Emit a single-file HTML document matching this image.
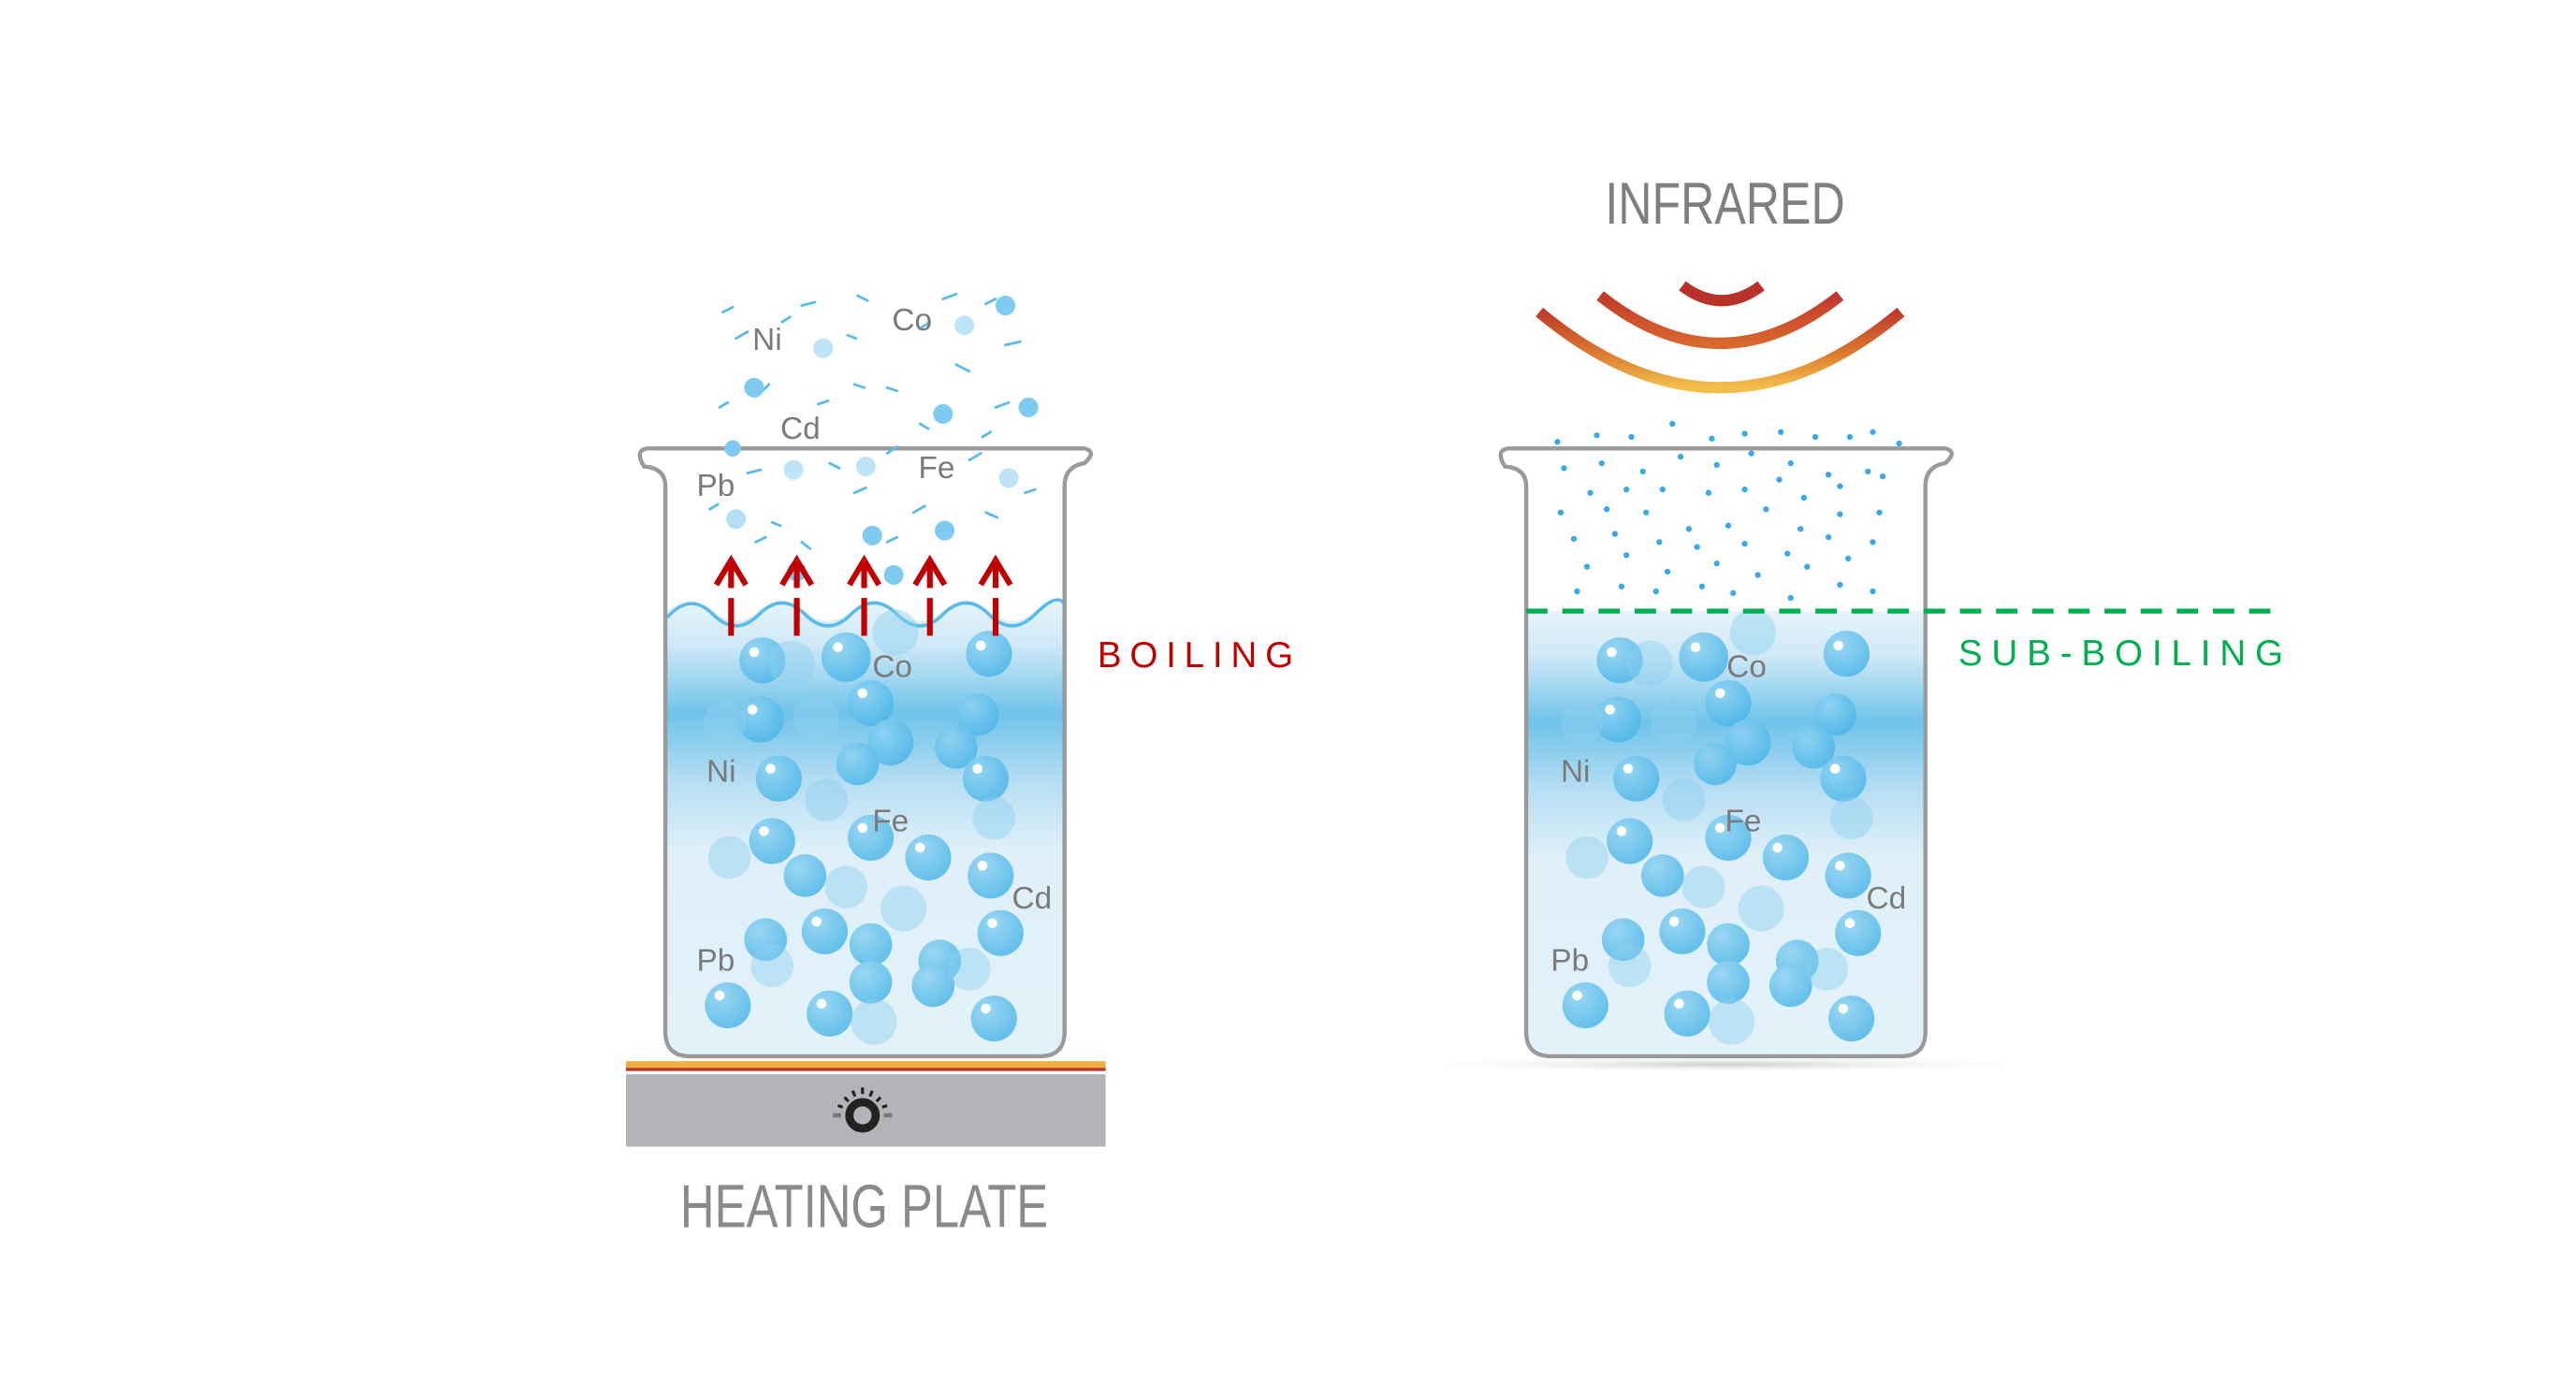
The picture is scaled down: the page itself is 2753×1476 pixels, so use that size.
<!DOCTYPE html>
<html><head><meta charset="utf-8"><style>html,body{margin:0;padding:0;background:#fff}svg{display:block}</style></head><body>
<svg width="2753" height="1476" viewBox="0 0 1568 840.7" xmlns="http://www.w3.org/2000/svg" font-family="Liberation Sans, sans-serif">
<defs>
<linearGradient id="liq" x1="0" y1="0" x2="0" y2="1">
<stop offset="0" stop-color="#e6f4fb"/><stop offset="0.1" stop-color="#cfe9f7"/><stop offset="0.25" stop-color="#6fc3ea"/><stop offset="0.4" stop-color="#b6def3"/><stop offset="0.55" stop-color="#dff0f9"/><stop offset="1" stop-color="#e3f2f9"/>
</linearGradient>
<radialGradient id="bub" cx="0.35" cy="0.3" r="0.75"><stop offset="0" stop-color="#8fd3f3"/><stop offset="1" stop-color="#4cb6e8"/></radialGradient>
<linearGradient id="arc" x1="0" y1="0" x2="0" y2="1"><stop offset="0" stop-color="#c0392b"/><stop offset="0.5" stop-color="#d9742f"/><stop offset="1" stop-color="#f2c04a"/></linearGradient>
<linearGradient id="arc2" x1="0" y1="0" x2="0" y2="1"><stop offset="0" stop-color="#c0392b"/><stop offset="1" stop-color="#d9682f"/></linearGradient>
<radialGradient id="sh" cx="0.5" cy="0.5" r="0.5"><stop offset="0" stop-color="#ccc"/><stop offset="1" stop-color="#fff" stop-opacity="0"/></radialGradient>
<g id="bubbles">
<g fill="url(#bub)" opacity="0.85">
<circle cx="464" cy="402" r="14"/><circle cx="515" cy="400" r="15"/><circle cx="602" cy="398" r="14"/><circle cx="530" cy="428" r="14"/><circle cx="463" cy="438" r="14"/><circle cx="595" cy="435" r="13"/><circle cx="542" cy="452" r="14"/><circle cx="582" cy="455" r="13"/><circle cx="474" cy="474" r="14"/><circle cx="522" cy="465" r="13"/><circle cx="600" cy="474" r="14"/><circle cx="470" cy="512" r="14"/><circle cx="530" cy="510" r="14"/><circle cx="565" cy="522" r="14"/><circle cx="490" cy="533" r="13"/><circle cx="603" cy="533" r="14"/><circle cx="466" cy="572" r="13"/><circle cx="502" cy="567" r="14"/><circle cx="530" cy="575" r="13"/><circle cx="572" cy="585" r="13"/><circle cx="609" cy="568" r="14"/><circle cx="443" cy="612" r="14"/><circle cx="505" cy="617" r="14"/><circle cx="568" cy="600" r="13"/><circle cx="605" cy="620" r="14"/><circle cx="530" cy="598" r="13"/>
</g>
<g fill="#8fd0f0" opacity="0.45">
<circle cx="482" cy="404" r="14"/><circle cx="497" cy="438" r="14"/><circle cx="441" cy="440" r="13"/><circle cx="503" cy="487" r="13"/><circle cx="444" cy="522" r="13"/><circle cx="550" cy="553" r="14"/><circle cx="532" cy="622" r="14"/><circle cx="470" cy="588" r="13"/><circle cx="545" cy="385" r="14"/><circle cx="605" cy="498" r="13"/><circle cx="515" cy="540" r="13"/><circle cx="590" cy="590" r="13"/>
</g>
<g fill="#fff">
<circle cx="459" cy="397" r="3"/><circle cx="510" cy="394" r="3"/><circle cx="597" cy="393" r="3"/><circle cx="525" cy="422" r="3"/><circle cx="458" cy="432" r="3"/><circle cx="469" cy="468" r="3"/><circle cx="465" cy="506" r="3"/><circle cx="525" cy="504" r="3"/><circle cx="560" cy="516" r="3"/><circle cx="598" cy="527" r="3"/><circle cx="497" cy="561" r="3"/><circle cx="438" cy="606" r="3"/><circle cx="500" cy="611" r="3"/><circle cx="600" cy="614" r="3"/><circle cx="604" cy="562" r="3"/><circle cx="595" cy="468" r="3"/>
</g>
</g>
</defs>

<path d="M406 372 Q420 360 434 372 T462 372 T490 372 T518 372 T546 372 T574 372 T602 372 T630 372 T648 368 L648 628 Q648 643 633 643 L420 643 Q406 643 406 628 Z" fill="url(#liq)"/>
<path d="M406 376 Q420 360 434 374 T462 374 T490 374 T518 374 T546 374 T574 374 T602 374 T630 374 T648 368" fill="none" stroke="#5bbbe8" stroke-width="2"/>
<use href="#bubbles"/>
<path d="M392 284 Q386 274 394 273 L660 273 Q668 275 660 282 Q648 284 648 296 L648 628 Q648 643 633 643 L420 643 Q405 643 405 628 L405 296 Q405 285 392 284 Z" fill="none" stroke="#9a9a9a" stroke-width="2.5"/>
<g stroke="#5bbbe8" stroke-width="1.6" stroke-linecap="round">
<path d="M440 190l6-3M488 186l8-2M522 180l6 3M574 182l8-3M600 185l6-3M448 206l7-4M476 196l5-3M516 204l5 2M560 200l6-4M612 210l9-2M438 248l5-3M464 238l4-4M498 246l6-2M540 236l6 2M582 222l8 4M606 248l8-3M455 288l8-2M505 282l6 3M540 276l6-4M590 280l7-4M432 310l5-3M470 318l5 2M520 300l7-3M556 312l7-4M600 312l7 3M488 330l5 4M520 234l6 2M560 258l5 3M598 266l5-3M624 300l6-2M460 330l6-3M540 330l6-3"/>
</g>
<g fill="#7fcaf0"><circle cx="459" cy="236" r="6"/><circle cx="501" cy="212" r="6" opacity=".5"/><circle cx="587" cy="198" r="6" opacity=".5"/><circle cx="612" cy="186" r="6"/><circle cx="574" cy="252" r="6"/><circle cx="626" cy="248" r="6"/><circle cx="446" cy="273" r="5"/><circle cx="483" cy="286" r="6" opacity=".5"/><circle cx="527" cy="284" r="6" opacity=".5"/><circle cx="614" cy="291" r="6" opacity=".5"/><circle cx="448" cy="316" r="6" opacity=".6"/><circle cx="531" cy="326" r="6"/><circle cx="575" cy="323" r="6"/><circle cx="544" cy="350" r="6"/><circle cx="485" cy="348" r="6"/></g>
<g stroke="#c00000" stroke-width="3.5" fill="none">
<g id="arr"><path d="M436 356 L445 341 L454 356 M445 342 V358 M445 364 V387"/></g>
<use href="#arr" x="40"/><use href="#arr" x="81"/><use href="#arr" x="121"/><use href="#arr" x="161"/>
</g>
<g fill="#7a7a7a" font-size="19">
<text x="458" y="213">Ni</text><text x="543" y="201">Co</text><text x="475" y="267">Cd</text><text x="559" y="291">Fe</text><text x="424" y="302">Pb</text>
<text x="531" y="412">Co</text><text x="430" y="476">Ni</text><text x="531" y="506">Fe</text><text x="616" y="553">Cd</text><text x="424" y="591">Pb</text>
</g>
<text x="668" y="406" fill="#c00000" font-size="22" letter-spacing="5">BOILING</text>
<rect x="381" y="646" width="292" height="4" fill="#f0b040"/><rect x="381" y="650" width="292" height="2" fill="#c0392b"/>
<rect x="381" y="654" width="292" height="44" fill="#b4b4b8"/>
<circle cx="525" cy="679" r="8" fill="none" stroke="#222" stroke-width="5"/>
<g stroke="#222" stroke-width="1.8"><path d="M525 662v4M519 664l1.5 3.5M531 664l-1.5 3.5M514 668l2.5 2.5M536 668l-2.5 2.5M510 673l3 1M540 673l-3 1"/></g>
<path d="M507 679h5M538 679h5" stroke="#777" stroke-width="2.5"/>
<text x="526" y="747" text-anchor="middle" fill="#8a8a8a" font-size="37" textLength="224" lengthAdjust="spacingAndGlyphs">HEATING PLATE</text>

<ellipse cx="1050" cy="648" rx="210" ry="5" fill="url(#sh)"/>
<path d="M929 372 L1172 372 L1172 628 Q1172 643 1157 643 L944 643 Q929 643 929 628 Z" fill="url(#liq)"/>
<use href="#bubbles" x="522"/>
<path d="M916 284 Q910 274 918 273 L1184 273 Q1192 275 1184 282 Q1172 284 1172 296 L1172 628 Q1172 643 1157 643 L944 643 Q929 643 929 628 L929 296 Q929 285 916 284 Z" fill="none" stroke="#9a9a9a" stroke-width="2.5"/>
<line x1="929" y1="372" x2="1385" y2="372" stroke="#00b050" stroke-width="3" stroke-dasharray="13,9"/>
<g fill="#3aa9e6">
<circle cx="948" cy="269" r="1.8"/><circle cx="972" cy="265" r="1.8"/><circle cx="993" cy="266" r="1.8"/><circle cx="1018" cy="258" r="1.8"/><circle cx="1042" cy="267" r="1.8"/><circle cx="1062" cy="264" r="1.8"/><circle cx="1084" cy="263" r="1.8"/><circle cx="1105" cy="266" r="1.8"/><circle cx="1126" cy="266" r="1.8"/><circle cx="1140" cy="263" r="1.8"/><circle cx="1156" cy="270" r="1.8"/>
<circle cx="952" cy="285" r="1.8"/><circle cx="975" cy="282" r="1.8"/><circle cx="1000" cy="287" r="1.8"/><circle cx="1023" cy="278" r="1.8"/><circle cx="1045" cy="283" r="1.8"/><circle cx="1066" cy="276" r="1.8"/><circle cx="1090" cy="282" r="1.8"/><circle cx="1113" cy="289" r="1.8"/><circle cx="1137" cy="287" r="1.8"/>
<circle cx="968" cy="300" r="1.8"/><circle cx="990" cy="298" r="1.8"/><circle cx="1012" cy="298" r="1.8"/><circle cx="1040" cy="300" r="1.8"/><circle cx="1062" cy="298" r="1.8"/><circle cx="1083" cy="292" r="1.8"/><circle cx="1098" cy="303" r="1.8"/><circle cx="1120" cy="296" r="1.8"/><circle cx="1146" cy="290" r="1.8"/>
<circle cx="950" cy="312" r="1.8"/><circle cx="978" cy="310" r="1.8"/><circle cx="1002" cy="312" r="1.8"/><circle cx="1028" cy="322" r="1.8"/><circle cx="1052" cy="320" r="1.8"/><circle cx="1075" cy="310" r="1.8"/><circle cx="1096" cy="322" r="1.8"/><circle cx="1120" cy="313" r="1.8"/><circle cx="1144" cy="312" r="1.8"/>
<circle cx="958" cy="328" r="1.8"/><circle cx="983" cy="325" r="1.8"/><circle cx="1010" cy="330" r="1.8"/><circle cx="1033" cy="333" r="1.8"/><circle cx="1062" cy="331" r="1.8"/><circle cx="1088" cy="337" r="1.8"/><circle cx="1113" cy="327" r="1.8"/><circle cx="1140" cy="330" r="1.8"/>
<circle cx="966" cy="345" r="1.8"/><circle cx="990" cy="338" r="1.8"/><circle cx="1015" cy="348" r="1.8"/><circle cx="1045" cy="343" r="1.8"/><circle cx="1070" cy="350" r="1.8"/><circle cx="1100" cy="345" r="1.8"/><circle cx="1125" cy="340" r="1.8"/>
<circle cx="960" cy="360" r="1.8"/><circle cx="987" cy="357" r="1.8"/><circle cx="1008" cy="360" r="1.8"/><circle cx="1036" cy="357" r="1.8"/><circle cx="1055" cy="361" r="1.8"/><circle cx="1090" cy="364" r="1.8"/><circle cx="1120" cy="356" r="1.8"/><circle cx="1140" cy="360" r="1.8"/>
</g>
<g fill="#7a7a7a" font-size="19">
<text x="1051" y="412">Co</text><text x="950" y="476">Ni</text><text x="1050" y="506">Fe</text><text x="1136" y="553">Cd</text><text x="944" y="591">Pb</text>
</g>
<text x="1192" y="405" fill="#00b050" font-size="22" letter-spacing="5.6">SUB-BOILING</text>
<text x="1050" y="136" text-anchor="middle" fill="#7f7f7f" font-size="36" textLength="146" lengthAdjust="spacingAndGlyphs">INFRARED</text>
<g fill="none" stroke-width="7">
<path d="M1024 174 Q1048 192 1072 174" stroke="#b8322a"/>
<path d="M974 180 Q1047 238 1120 180" stroke="url(#arc2)"/>
<path d="M937 190 Q1047 282 1157 190" stroke="url(#arc)"/>
</g>
</svg>
</body></html>
